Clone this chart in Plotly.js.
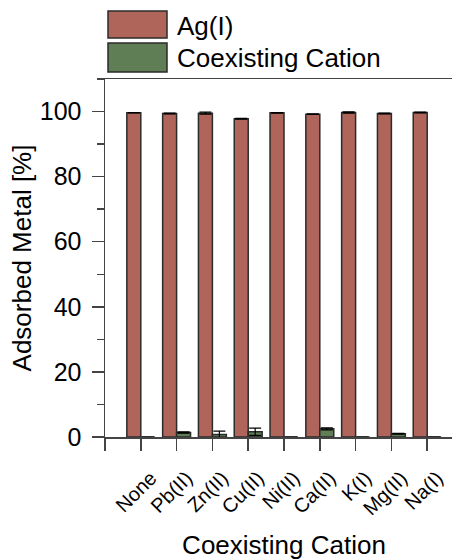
<!DOCTYPE html>
<html>
<head>
<meta charset="utf-8">
<script src="https://cdn.plot.ly/plotly-3.0.1.min.js"></script>
<style>
html,body{margin:0;padding:0;overflow:hidden;background:#fff;}
#chart{width:463px;height:560px;}
</style>
</head>
<body>
<div id="chart"></div>
<script>
const categories = ["None","Pb(II)","Zn(II)","Cu(II)","Ni(II)","Ca(II)","K(I)","Mg(II)","Na(I)"];
const agValues = [99.6, 99.4, 99.5, 97.8, 99.6, 99.2, 99.7, 99.4, 99.7];
const agErrors = [0.05, 0.1, 0.3, 0.1, 0.1, 0.1, 0.2, 0.1, 0.1];
const coValues = [0, 1.4, 0.8, 1.6, 0, 2.5, 0, 1.0, 0];
const coErrors = [0, 0.2, 1.0, 1.1, 0, 0.3, 0, 0.15, 0];
const seriesNames = ["Ag(I)", "Coexisting Cation"];
const yTicks = [0, 20, 40, 60, 80, 100];

const xPos = categories.map((c, i) => i);
const tickVals = [-1].concat(xPos);
const tickText = [""].concat(categories);

const agColor = "#B0655B";
const coColor = "#5F7E56";
const edge = "#2b2b2b";
const axisColor = "#444444";
const font = "Liberation Sans, Arial, sans-serif";

const traces = [
  {
    type: "bar", name: seriesNames[0], x: xPos, y: agValues,
    marker: {color: agColor, line: {color: edge, width: 1.5}},
    error_y: {type: "data", array: agErrors, visible: true, color: "#000", thickness: 1.2, width: 6},
    showlegend: false
  },
  {
    type: "bar", name: seriesNames[1], x: xPos, y: coValues,
    marker: {color: coColor, line: {color: edge, width: 1.5}},
    error_y: {type: "data", array: coErrors, visible: true, color: "#000", thickness: 1.2, width: 6},
    showlegend: false
  }
];

const py = y => (437 - y) / 358;
const px = x => (x - 105) / 358;

const layout = {
  width: 463, height: 560,
  margin: {l: 105, r: 0, t: 79, b: 123},
  paper_bgcolor: "#fff", plot_bgcolor: "#fff",
  barmode: "group", bargap: 0.22, bargroupgap: 0,
  font: {family: font, color: "#000"},
  xaxis: {
    range: [-1, 9], tickmode: "array", tickvals: tickVals, ticktext: tickText,
    tickangle: -45, tickfont: {size: 20, family: font, color: "#000"},
    ticks: "outside", ticklen: 12, tickwidth: 1.5, tickcolor: axisColor,
    ticklabelshift: 10, ticklabelstandoff: 8,
    showline: true, linecolor: axisColor, linewidth: 1.5, mirror: true,
    showgrid: false, zeroline: false, automargin: false,
    title: {text: "Coexisting Cation", font: {size: 26, family: font, color: "#000"}, standoff: 24}
  },
  yaxis: {
    range: [0, 110], tickmode: "array", tickvals: yTicks,
    tickfont: {size: 25, family: font, color: "#000"},
    ticks: "outside", ticklen: 12, tickwidth: 1.5, tickcolor: axisColor,
    ticklabelstandoff: 5,
    minor: {tickmode: "array", tickvals: [10, 30, 50, 70, 90, 110], ticks: "outside", ticklen: 7, tickwidth: 1.5, tickcolor: axisColor},
    showline: true, linecolor: axisColor, linewidth: 1.5, mirror: true,
    showgrid: false, zeroline: false, automargin: false,
    title: {text: "Adsorbed Metal [%]", font: {size: 26, family: font, color: "#000"}, standoff: 0}
  },
  shapes: [
    {type: "rect", xref: "paper", yref: "paper", x0: px(108), x1: px(167), y0: py(38), y1: py(11),
     fillcolor: agColor, line: {color: edge, width: 1.5}},
    {type: "rect", xref: "paper", yref: "paper", x0: px(108), x1: px(167), y0: py(72), y1: py(43),
     fillcolor: coColor, line: {color: edge, width: 1.5}}
  ],
  annotations: [
    {xref: "paper", yref: "paper", x: px(175), y: py(26), xanchor: "left", yanchor: "middle",
     text: seriesNames[0], showarrow: false, font: {size: 26, family: font, color: "#000"}},
    {xref: "paper", yref: "paper", x: px(175), y: py(58), xanchor: "left", yanchor: "middle",
     text: seriesNames[1], showarrow: false, font: {size: 26, family: font, color: "#000"}}
  ]
};

Plotly.newPlot("chart", traces, layout, {displayModeBar: false, staticPlot: true});
</script>
</body>
</html>
